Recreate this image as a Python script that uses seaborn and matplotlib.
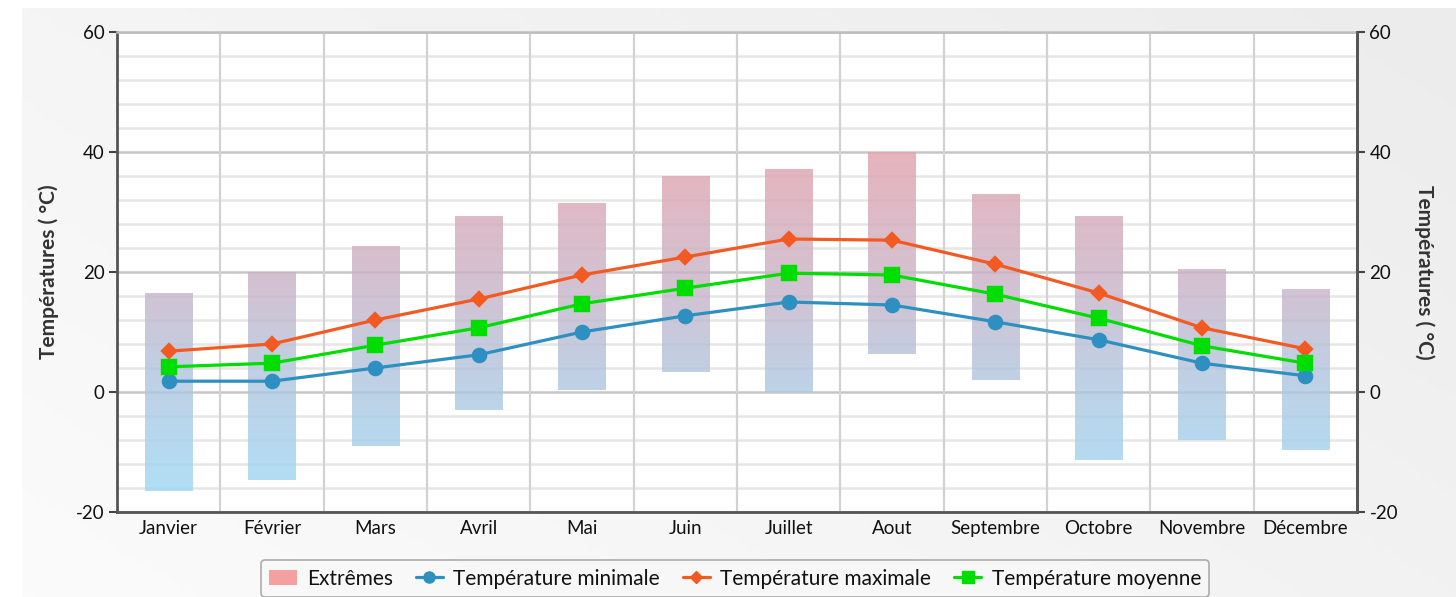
import numpy as np
import pandas as pd
import matplotlib
matplotlib.use("Agg")
import matplotlib.pyplot as plt
from matplotlib.colors import LinearSegmentedColormap
from matplotlib.lines import Line2D
from matplotlib.patches import Patch
import seaborn as sns

# data
mois = ["Janvier", "Février", "Mars", "Avril", "Mai", "Juin", "Juillet",
        "Aout", "Septembre", "Octobre", "Novembre", "Décembre"]
ext_max = [16.5, 20, 24.3, 29.3, 31.5, 36, 37.2, 40, 33, 29.3, 20.5, 17.2]
ext_min = [-16.5, -14.7, -9, -3, 0.3, 3.3, 0, 6.3, 2, -11.3, -8, -9.7]
t_min = [1.8, 1.8, 4, 6.2, 10, 12.7, 15, 14.5, 11.7, 8.7, 4.8, 2.7]
t_max = [6.8, 8, 12, 15.5, 19.5, 22.5, 25.5, 25.3, 21.3, 16.5, 10.7, 7.2]
t_moy = [4.2, 4.8, 7.8, 10.7, 14.7, 17.3, 19.8, 19.5, 16.3, 12.3, 7.7, 4.8]

df = pd.DataFrame({"Mois": mois, "ext_min": ext_min, "ext_max": ext_max,
                   "tmin": t_min, "tmax": t_max, "tmoy": t_moy})

c_min = "#2e8fc1"
c_max = "#f25a22"
c_moy = "#00dd00"

sns.set_style("white")
plt.rcParams["font.family"] = ["Lato", "DejaVu Sans"]
plt.rcParams["axes.unicode_minus"] = False

fig = plt.figure(figsize=(14.56, 5.97), dpi=100)
fig.patch.set_facecolor("white")

# soft grey background panel
bg = fig.add_axes([0.015, 0.0, 0.985, 0.987], zorder=-10)
gx, gy = np.meshgrid(np.linspace(0, 1, 200), np.linspace(0, 1, 100))
bg.imshow(gx * 0.6 + (1 - gy) * 0.4, cmap=LinearSegmentedColormap.from_list(
    "bg", ["#fbfbfb", "#ececec"]), aspect="auto", extent=[0, 1, 0, 1])
bg.axis("off")

ax = fig.add_axes([0.0804, 0.1424, 0.8516, 0.8040])
ax.set_facecolor("white")

# grid
for v in range(-20, 61, 4):
    if v % 20 == 0:
        ax.axhline(v, color="#c6c6c6", lw=1.8, zorder=0)
    else:
        ax.axhline(v, color="#e6e6e6", lw=1.8, zorder=0)
for b in np.arange(0.5, 11, 1):
    ax.axvline(b, color="#d2d2d2", lw=1.6, zorder=0)

# range bars with vertical gradient
x = np.arange(len(mois))
bars = ax.bar(x, df["ext_max"] - df["ext_min"], bottom=df["ext_min"],
              width=0.46, color="none", edgecolor="none", zorder=1)
cmap = LinearSegmentedColormap.from_list(
    "ext", [(0.0, "#9fd8f5"), (0.35, "#b2c6de"), (0.6, "#c9b5c9"),
            (1.0, "#e2a3ae")])
grad = np.linspace(1, 0, 256).reshape(-1, 1)
for p in bars.patches:
    im = ax.imshow(grad, cmap=cmap, aspect="auto", extent=[-0.5, 11.5, -17, 40],
                   alpha=0.82, zorder=1)
    im.set_clip_path(p)

# lines
common = dict(data=df, x="Mois", ax=ax, linewidth=2.3, zorder=3)
sns.pointplot(y="tmin", color=c_min, marker="o", markersize=9.5, **common)
sns.pointplot(y="tmax", color=c_max, marker="D", markersize=7, **common)
sns.pointplot(y="tmoy", color=c_moy, marker="s", markersize=9.5, **common)

txt = "#111111"
ax.set_xlim(-0.5, 11.5)
ax.set_ylim(-20, 60)
ax.set_xlabel("")
ax.set_ylabel("Températures ( °C)", fontsize=15, fontweight="bold",
              color="#333333", labelpad=12)
ax.set_yticks([-20, 0, 20, 40, 60])
ax.set_xticks(np.arange(0.5, 11, 1))
ax.set_xticklabels([])
ax.set_xticks(x, minor=True)
ax.set_xticklabels(mois, minor=True, fontsize=13.5, color=txt)
ax.tick_params(axis="x", which="major", length=6, width=1.5, color="#444444")
ax.tick_params(axis="x", which="minor", length=0, pad=6)
ax.tick_params(axis="y", length=6, width=1.5, color="#444444", labelsize=13.5,
               labelcolor=txt, pad=3)

for s in ["left", "right", "bottom"]:
    ax.spines[s].set_color("#555555")
    ax.spines[s].set_linewidth(2)
ax.spines["top"].set_color("#bdbdbd")
ax.spines["top"].set_linewidth(1.8)

ax2 = ax.twinx()
ax2.set_ylim(-20, 60)
ax2.set_yticks([-20, 0, 20, 40, 60])
ax2.tick_params(axis="y", length=6, width=1.5, color="#444444", labelsize=13.5,
                labelcolor=txt, pad=3)
ax2.set_ylabel("Températures ( °C)", fontsize=15, fontweight="bold",
               color="#333333", rotation=270, labelpad=26)
for s in ax2.spines.values():
    s.set_visible(False)
ax2.spines["right"].set_visible(True)
ax2.spines["right"].set_color("#555555")
ax2.spines["right"].set_linewidth(2)

handles = [
    Patch(facecolor="#f5a0a0", edgecolor="none"),
    Line2D([], [], color=c_min, marker="o", lw=2.3, markersize=8),
    Line2D([], [], color=c_max, marker="D", lw=2.3, markersize=6),
    Line2D([], [], color=c_moy, marker="s", lw=2.3, markersize=8),
]
labels = ["Extrêmes", "Température minimale", "Température maximale",
          "Température moyenne"]
leg = fig.legend(handles, labels, loc="upper center", ncol=4,
                 bbox_to_anchor=(0.505, 0.079), fontsize=15, frameon=True,
                 fancybox=True, edgecolor="#999999", facecolor="#f8f8f8",
                 handlelength=1.3, handletextpad=0.5, columnspacing=1.1,
                 borderpad=0.4)
for t in leg.get_texts():
    t.set_color(txt)
leg.get_frame().set_linewidth(1.2)

fig.savefig("out.png", dpi=100)
